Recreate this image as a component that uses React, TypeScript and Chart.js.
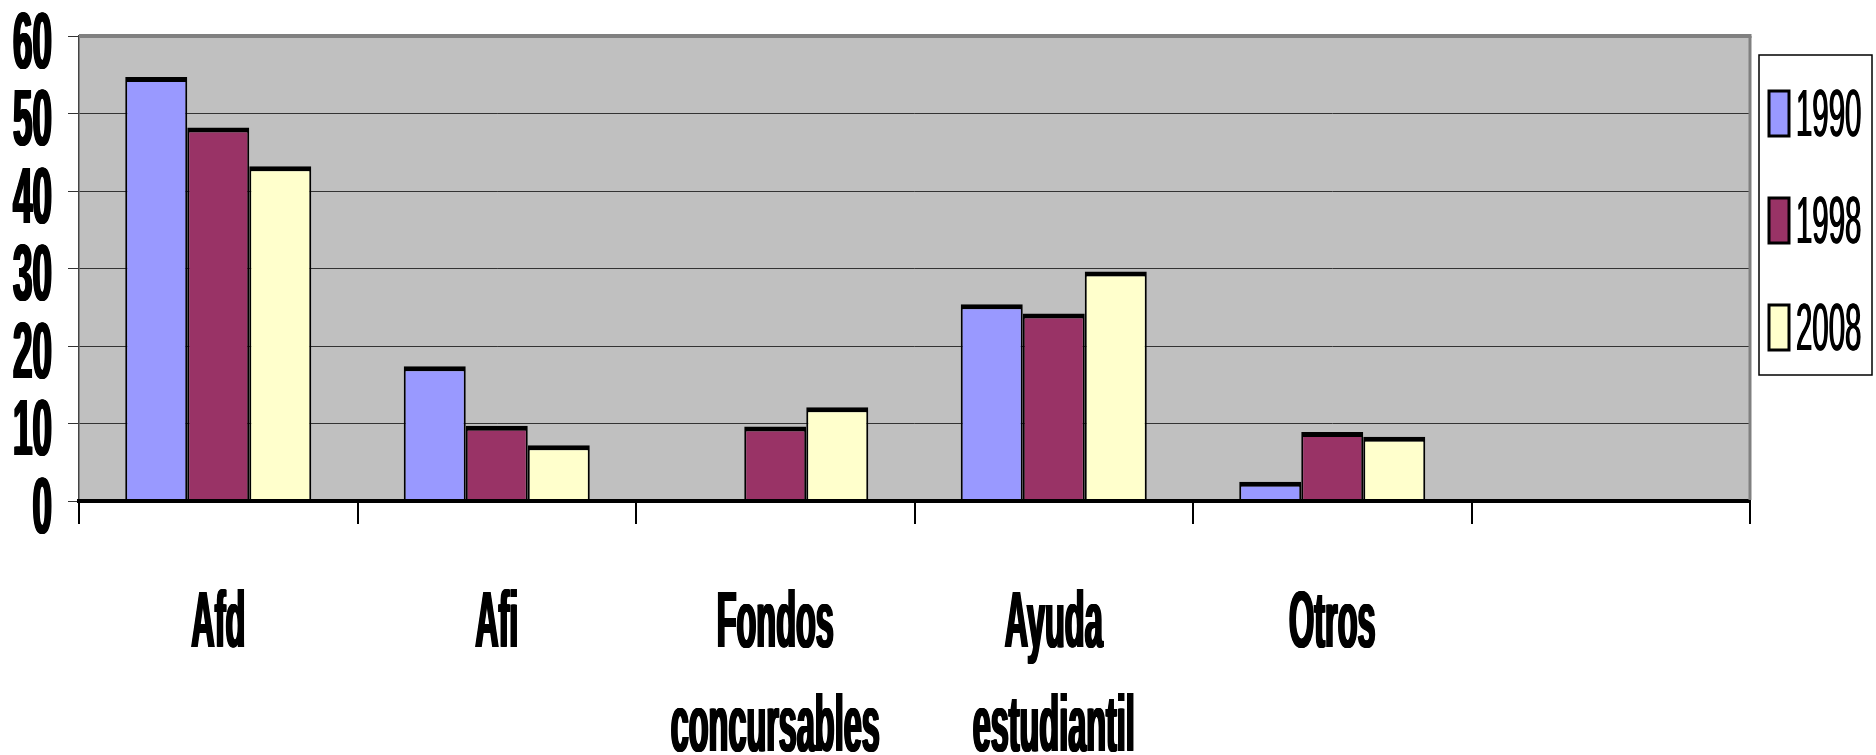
import React, { useEffect, useRef } from 'react';
import { Chart, registerables } from 'chart.js';

Chart.register(...registerables);

// ---- data ----
const categories: (string | string[])[] = [
  'Afd',
  'Afi',
  ['Fondos', 'concursables'],
  ['Ayuda', 'estudiantil'],
  'Otros',
  '',
];
const seriesNames = ['1990', '1998', '2008'];
const values1990 = [54.7, 17.4, null, 25.4, 2.5, null];
const values1998 = [48.2, 9.7, 9.6, 24.2, 8.9, null];
const values2008 = [43.2, 7.2, 12.1, 29.6, 8.3, null];
const yMin = 0;
const yMax = 60;
const yStep = 10;

// ---- styles ----
const seriesColors = ['#9999FF', '#993366', '#FFFFCC'];
const FONT = '"Liberation Sans", Arial, Helvetica, sans-serif';

function stretchText(
  ctx: CanvasRenderingContext2D,
  text: string,
  x: number,
  baseline: number,
  size: number,
  weight: string,
  sx: number,
  sy: number,
  align: CanvasTextAlign,
  heavy: number
) {
  ctx.save();
  ctx.font = `${weight} ${size}px ${FONT}`;
  ctx.textAlign = align;
  ctx.textBaseline = 'alphabetic';
  ctx.fillStyle = '#000';
  const steps = Math.max(1, Math.round(heavy * 2) + 1);
  for (let k = 0; k < steps; k++) {
    const dx = steps > 1 ? -heavy / 2 + (heavy * k) / (steps - 1) : 0;
    ctx.save();
    ctx.translate(x + dx, baseline);
    ctx.scale(sx, sy);
    ctx.fillText(text, 0, 0);
    ctx.restore();
  }
  ctx.restore();
}

const decorPlugin = {
  id: 'decor',
  beforeDraw(chart: any) {
    const { ctx, chartArea: a } = chart;
    ctx.save();
    ctx.fillStyle = '#C0C0C0';
    ctx.fillRect(a.left, a.top, a.right - a.left, a.bottom - a.top);
    ctx.restore();
  },
  afterDraw(chart: any) {
    const { ctx, chartArea: a } = chart;
    // plot frame (top / right)
    ctx.save();
    ctx.strokeStyle = '#808080';
    ctx.lineWidth = 4;
    ctx.beginPath();
    ctx.moveTo(a.left, a.top);
    ctx.lineTo(a.right + 1.5, a.top);
    ctx.stroke();
    ctx.lineWidth = 3;
    ctx.beginPath();
    ctx.moveTo(a.right, a.top);
    ctx.lineTo(a.right, a.bottom - 1);
    ctx.stroke();
    ctx.restore();

    // y tick labels
    const ys = chart.scales.y;
    ys.ticks.forEach((t: any) => {
      const py = ys.getPixelForValue(t.value);
      stretchText(ctx, String(t.value), a.left - 27, py + 31.5, 35, 'bold', 1, 2.26, 'right', 2);
    });

    // x tick labels
    const xs = chart.scales.x;
    (chart.data.labels as any[]).forEach((lab, i) => {
      const px = xs.getPixelForValue(i);
      const lines = Array.isArray(lab) ? lab : [lab];
      lines.forEach((ln: string, k: number) => {
        if (!ln) return;
        stretchText(ctx, ln, px, a.bottom + 146 + k * 104, 36, 'bold', 0.9, 2.2, 'center', 2);
      });
    });

    // legend
    const lx = a.right + 9;
    const ly = 55;
    const lw = 113;
    const lh = 320;
    ctx.save();
    ctx.fillStyle = '#FFFFFF';
    ctx.fillRect(lx, ly, lw, lh);
    ctx.strokeStyle = '#000';
    ctx.lineWidth = 1.5;
    ctx.strokeRect(lx, ly, lw, lh);
    ctx.restore();
    chart.data.datasets.forEach((ds: any, i: number) => {
      const cy = ly + 58 + i * 107;
      ctx.save();
      ctx.fillStyle = ds.backgroundColor;
      ctx.fillRect(lx + 10, cy - 22, 20, 45);
      ctx.strokeStyle = '#000';
      ctx.lineWidth = 3;
      ctx.strokeRect(lx + 10, cy - 22, 20, 45);
      ctx.restore();
      stretchText(ctx, ds.label, lx + 37, cy + 23, 30, 'normal', 0.98, 2.25, 'left', 1);
    });
  },
};

export default function App() {
  const ref = useRef<HTMLCanvasElement | null>(null);

  useEffect(() => {
    if (!ref.current) return;
    const seriesValues = [values1990, values1998, values2008];
    const chart = new Chart(ref.current, {
      type: 'bar',
      data: {
        labels: categories,
        datasets: seriesNames.map((name, i) => ({
          label: name,
          data: seriesValues[i],
          backgroundColor: seriesColors[i],
          borderColor: '#000000',
          borderWidth: { top: 5, left: 2, right: 2, bottom: 0 },
          categoryPercentage: 0.668,
          barPercentage: 1,
        })),
      },
      options: {
        animation: false,
        responsive: true,
        maintainAspectRatio: false,
        layout: { padding: { left: 0, top: 36, right: 126, bottom: 0 }, autoPadding: false },
        plugins: {
          legend: { display: false },
          tooltip: { enabled: false },
        },
        scales: {
          x: {
            type: 'category',
            offset: true,
            grid: {
              offset: true,
              drawOnChartArea: false,
              drawTicks: true,
              tickLength: 23,
              color: '#000000',
              lineWidth: 2,
            },
            border: { color: '#000000', width: 4, z: 1 },
            ticks: { display: false },
            afterFit: (s: any) => {
              s.height = 254;
            },
          },
          y: {
            min: yMin,
            max: yMax,
            ticks: { stepSize: yStep, display: false },
            grid: { color: '#333333', lineWidth: 1, tickLength: 11, drawTicks: true },
            border: { color: '#444444', width: 1.5 },
            afterFit: (s: any) => {
              s.width = 79;
            },
          },
        },
      } as any,
      plugins: [decorPlugin],
    });
    return () => chart.destroy();
  }, []);

  return (
    <div style={{ position: 'fixed', left: 0, top: 0, width: 1876, height: 755, background: '#fff' }}>
      <canvas ref={ref} />
    </div>
  );
}
